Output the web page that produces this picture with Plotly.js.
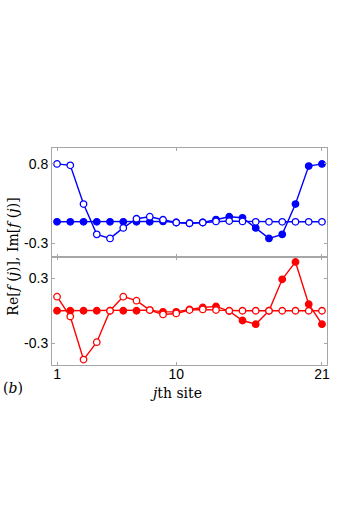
<!DOCTYPE html>
<html>
<head>
<meta charset="utf-8">
<script src="https://cdn.plot.ly/plotly-3.0.1.min.js"></script>
<style>
  html, body { margin: 0; padding: 0; background: #fff; }
  #grafica { width: 354px; height: 510px; }
</style>
</head>
<body>
<div id="grafica"></div>
<script>
// sitios de la cadena
const sitios = [1,2,3,4,5,6,7,8,9,10,11,12,13,14,15,16,17,18,19,20,21];

// panel superior: Im[f(j)] (azul)
const imLleno = [0,0,0,0,0,0,0,0,0.005,-0.01,-0.02,-0.01,0.03,0.07,0.055,-0.085,-0.23,-0.174,0.245,0.77,0.8];
const imAbierto = [0.8,0.78,0.245,-0.174,-0.23,-0.085,0.042,0.07,0.028,-0.01,-0.02,-0.01,0.005,0.01,0.005,0,0,0,0,0,0];

// panel inferior: Re[f(j)] (rojo)
const reLleno = [0,0,0,0,0,0,0,0.006,-0.01,-0.01,0.012,0.03,0.04,-0.003,-0.09,-0.124,0,0.29,0.45,0.06,-0.124];
const reAbierto = [0.13,-0.053,-0.45,-0.29,0,0.13,0.093,0.006,-0.034,-0.025,0.006,0.012,0.006,0,0,0,0,0,0,0,0];

// ticks
const ticksX = [1, 10, 21];
const ticksYArriba = [0.8, -0.3];
const ticksYAbajo = [0.3, -0.3];
const etiquetasYArriba = ['0.8', '-0.3'];
const etiquetasYAbajo = ['0.3', '-0.3'];

const gris = '#a6a6a6';
const fuenteTicks = { family: 'Liberation Sans, Arial, sans-serif', size: 14, color: '#000' };
const fuenteSerif = { family: 'DejaVu Serif, serif', size: 14, color: '#000' };

function serie(x, y, color, lleno, ejeX, ejeY) {
    return {
        x: x, y: y, xaxis: ejeX, yaxis: ejeY,
        mode: 'lines+markers', type: 'scatter',
        line: { color: color, width: 1.4 },
        marker: { size: 6.5, color: lleno ? color : '#fff', line: { color: color, width: 1.3 } },
        showlegend: false, cliponaxis: false
    };
}

const trazas = [
    serie(sitios, imLleno, '#0000ff', true, 'x2', 'y2'),
    serie(sitios, imAbierto, '#0000ff', false, 'x2', 'y2'),
    serie(sitios, reLleno, '#ff0000', true, 'x', 'y'),
    serie(sitios, reAbierto, '#ff0000', false, 'x', 'y')
];

const ejeBase = {
    showline: true, linecolor: gris, linewidth: 1, mirror: 'ticks',
    ticks: 'inside', ticklen: 3, tickcolor: gris, tickwidth: 1,
    showgrid: false, zeroline: false, tickfont: fuenteTicks, fixedrange: true
};

const layout = {
    width: 354, height: 510,
    margin: { l: 52, r: 27, t: 148, b: 145 },
    paper_bgcolor: '#fff', plot_bgcolor: '#fff',
    xaxis: Object.assign({}, ejeBase, { range: [0.62, 21.38], tickvals: ticksX, anchor: 'y', ticklabelstandoff: -4 }),
    xaxis2: Object.assign({}, ejeBase, { range: [0.62, 21.38], tickvals: ticksX, anchor: 'y2', matches: 'x', showticklabels: false }),
    yaxis: Object.assign({}, ejeBase, { domain: [0, 0.5], range: [-0.5, 0.5], tickvals: ticksYAbajo, ticktext: etiquetasYAbajo, anchor: 'x' }),
    yaxis2: Object.assign({}, ejeBase, { domain: [0.5, 1], range: [-0.48, 1.02], tickvals: ticksYArriba, ticktext: etiquetasYArriba, anchor: 'x2' }),
    annotations: [
        { text: 'Re[<i>f</i> (<i>j</i>)], Im[<i>f</i> (<i>j</i>)]', textangle: -90, xref: 'paper', yref: 'paper',
          x: -0.145, y: 0.5, xanchor: 'center', yanchor: 'middle', showarrow: false, font: fuenteSerif },
        { text: '<i>j</i>th site', xref: 'x', yref: 'paper', x: 10, y: -0.128,
          xanchor: 'center', yanchor: 'middle', showarrow: false, font: fuenteSerif },
        { text: '(<i>b</i>)', xref: 'paper', yref: 'paper', x: -0.142, y: -0.106,
          xanchor: 'center', yanchor: 'middle', showarrow: false, font: fuenteSerif }
    ]
};

Plotly.newPlot('grafica', trazas, layout, { staticPlot: true });
</script>
</body>
</html>
